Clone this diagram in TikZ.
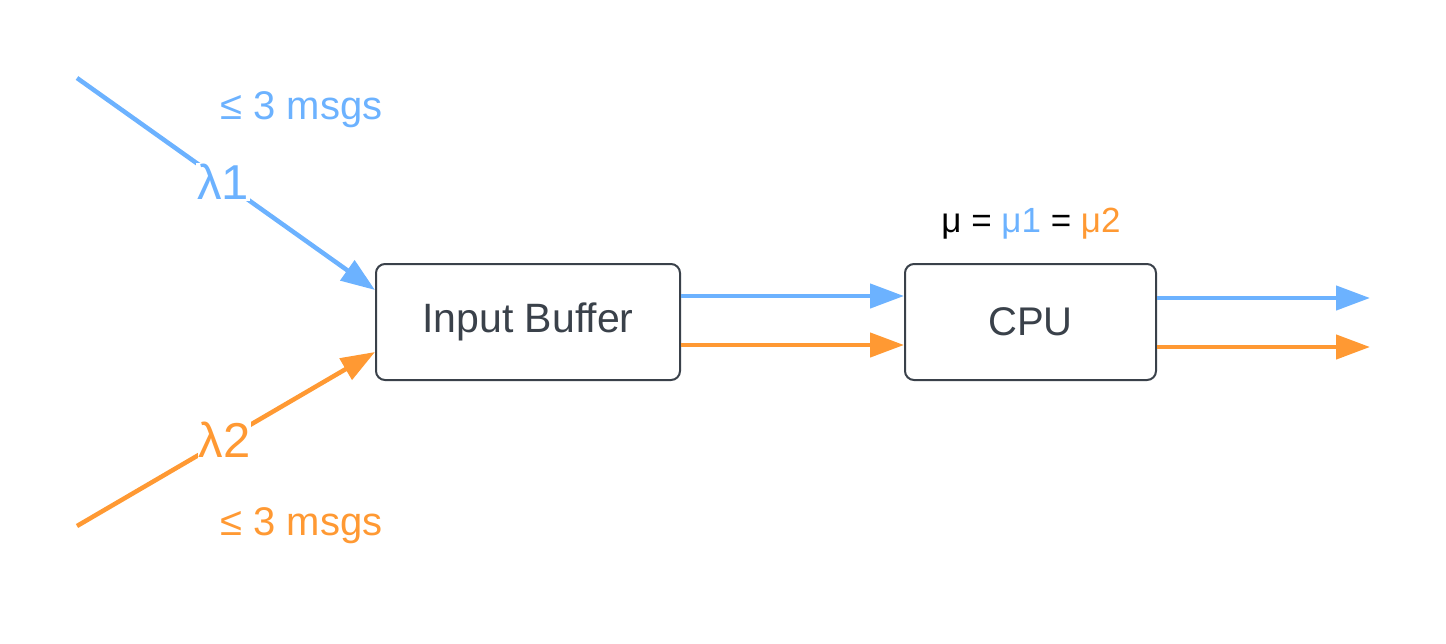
\documentclass[tikz,border=0pt]{standalone}
\usepackage{fontspec}
\setmainfont{Liberation Sans}
\usetikzlibrary{arrows.meta}
\definecolor{cblue}{HTML}{6CB2FF}
\definecolor{corange}{HTML}{FF9933}
\definecolor{cdark}{HTML}{3A414A}
\begin{document}
\begin{tikzpicture}[x=1pt,y=-1pt,
  box/.style={draw=cdark,line width=2pt,rounded corners=9pt,fill=white,text=cdark,inner sep=0pt},
  flow/.style={line width=4.5pt,-{Triangle[length=34pt,width=24pt]}},
  lam/.style={fill=white,inner sep=1pt,font=\fontsize{49}{56}\selectfont},
  msg/.style={anchor=west,font=\fontsize{40}{46}\selectfont}]
\useasboundingbox (0,0) rectangle (1446,643);
\node[box,font=\fontsize{41}{48}\selectfont,minimum width=304pt,minimum height=116pt] (ib) at (528,322) {Input Buffer};
\node[box,font=\fontsize{40}{48}\selectfont,minimum width=251pt,minimum height=116pt] (cpu) at (1030.5,322) {CPU};
\coordinate (s1) at (77,78);
\coordinate (s2) at (77,526);
\coordinate (o1) at (1370,298);
\coordinate (o2) at (1370,347);
\draw[flow,draw=cblue,fill=cblue] (s1) -- node[lam,text=cblue,pos=0.49] (l1) {λ1} (ib.west |- 0,290);
\draw[flow,draw=corange,fill=corange] (s2) -- node[lam,text=corange,pos=0.495] (l2) {λ2} (ib.west |- 0,352);
\draw[flow,draw=cblue,fill=cblue] (ib.east |- 0,296) -- (cpu.west |- 0,296);
\draw[flow,draw=corange,fill=corange] (ib.east |- 0,345) -- (cpu.west |- 0,345);
\draw[flow,draw=cblue,fill=cblue] (cpu.east |- o1) -- (o1);
\draw[flow,draw=corange,fill=corange] (cpu.east |- o2) -- (o2);
\node[msg,text=cblue] (m1) at (217,110) {≤ 3 msgs};
\node[msg,text=corange] (m2) at (217,526) {≤ 3 msgs};
\node[font=\fontsize{35}{42}\selectfont] (mu) at (1031,224) {μ = \textcolor{cblue}{μ1} = \textcolor{corange}{μ2}};
\end{tikzpicture}
\end{document}
